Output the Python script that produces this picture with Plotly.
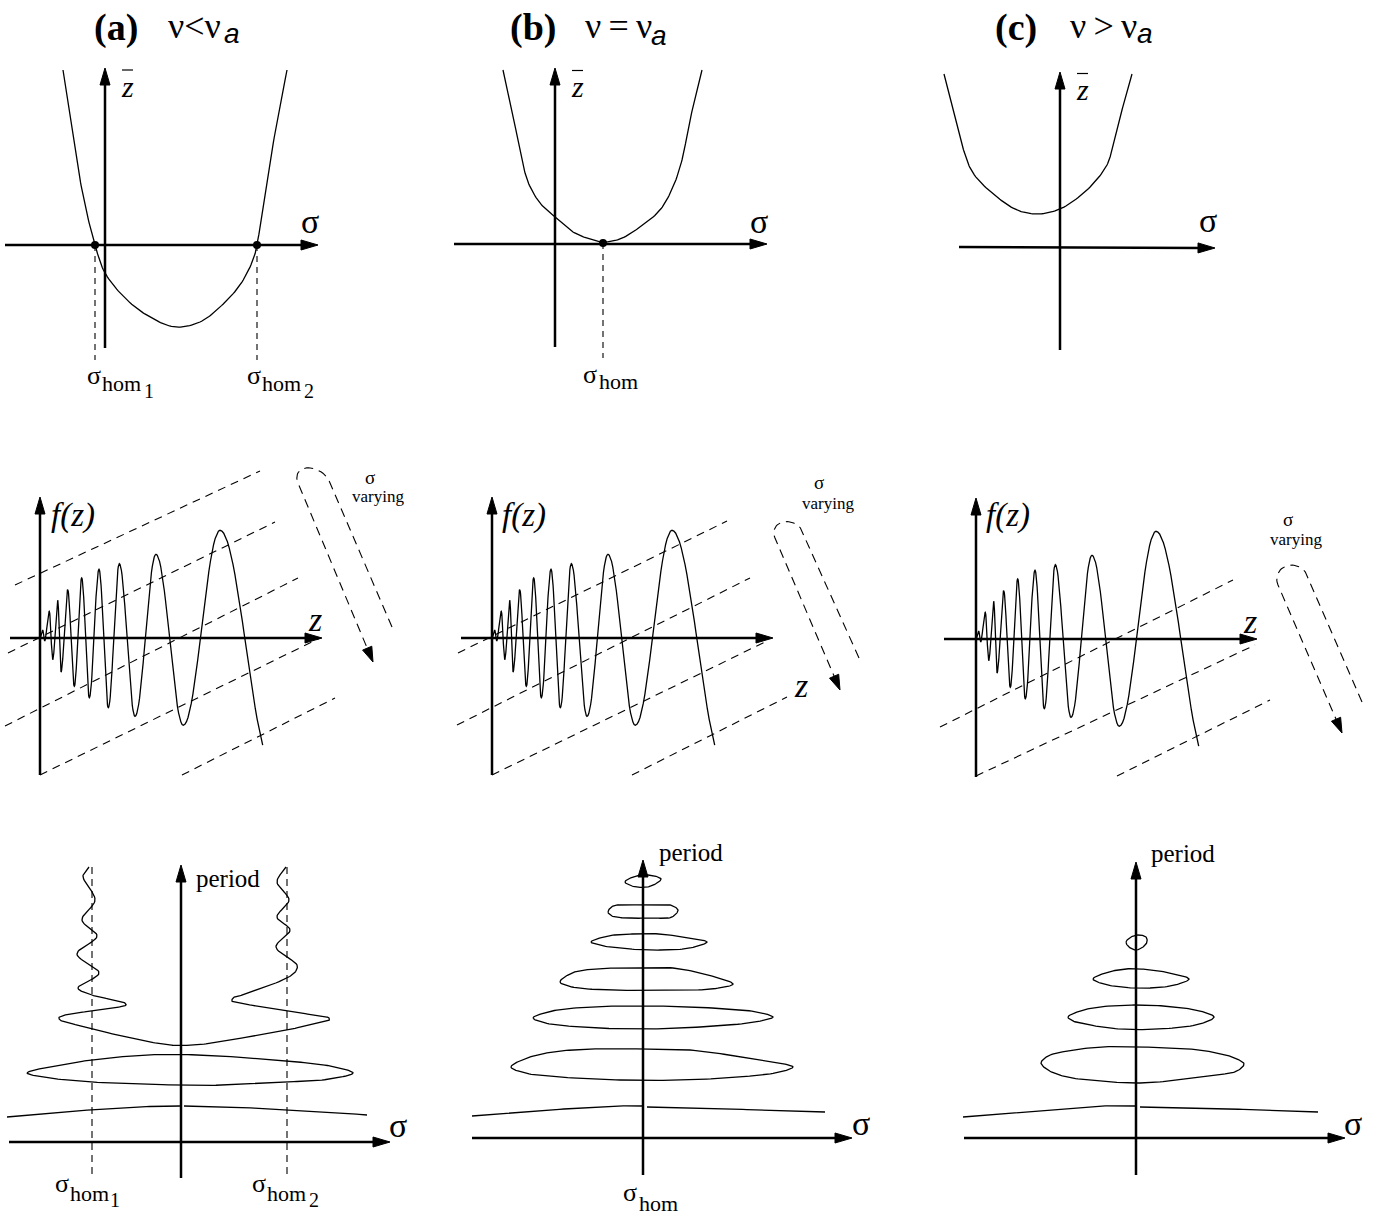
import numpy as np
import plotly.graph_objects as go

W, H = 1379, 1219
SERIF = "Liberation Serif"
SANS = "Liberation Sans"

# ---------------- top row: z-bar as a function of sigma ----------------
TOP_SIGMA_AXES = [((5, 245), (318, 245)), ((454, 244), (767, 244)), ((959, 247), (1215, 248))]
TOP_ZBAR_AXES = [((105, 348), (105, 68)), ((555, 347), (555, 68)), ((1060, 350), (1060, 72))]

ZBAR_A = [(63, 70), (69, 110), (75, 150), (84, 200), (95, 245), (105, 273), (127, 300), (150, 317),
          (175, 327), (200, 322), (220, 307), (240, 285), (253, 260), (257, 245), (264, 200),
          (275, 133), (287, 70)]
ZBAR_B = [(503, 70), (512, 110), (520, 150), (528, 182), (540, 203), (555, 217), (573, 232),
          (590, 239), (603, 242), (620, 239), (640, 227), (660, 210), (673, 187), (682, 160),
          (690, 120), (702, 70)]
ZBAR_C = [(944, 74), (953, 110), (962, 145), (973, 173), (997, 197), (1017, 210), (1037, 214),
          (1060, 209), (1087, 190), (1107, 165), (1113, 145), (1122, 110), (1132, 74)]

# homoclinic points on the sigma axis and their drop lines
HOM_TOP_X = [95, 257, 603]
HOM_TOP_Y = [245, 245, 243]
HOM_TOP_DROP_END = [360, 360, 358]

# ---------------- middle row: f(z) oscillations ----------------
MID_ORIGINS = [(40, 638), (492, 638), (976, 639)]
MID_F_AXES = [((40, 775), (40, 497)), ((492, 775), (492, 497)), ((976, 777), (976, 498))]
MID_Z_AXES = [((10, 638), (322, 638)), ((461, 638), (773, 638)), ((944, 639), (1257, 639))]

# extrema of the chirped wave, offsets from the origin (px, y downwards)
WAVE_DX = [0, 2.7, 4.6, 9.3, 12.7, 17.7, 21, 27.7, 34.3, 41.7, 49.3, 59, 68.3, 79.3, 95, 116,
           143.3, 180, 232]
WAVE_DY = [0, -8, 3, -26.7, 21.7, -37.7, 34, -48.3, 48.3, -60, 59.7, -68.7, 69.7, -74.3, 78.3,
           -83.7, 87.3, -107.7, 125]
WAVE_END_DX = 222.7

# dashed perspective lines
DASH_A = [((15, 585), (260, 471)), ((8, 653), (275, 522)), ((5, 726), (298, 578)),
          ((40, 775), (320, 638)), ((182, 775), (335, 698))]
DASH_B = [((458, 653), (727, 521)), ((457, 725), (750, 578)), ((492, 775), (765, 642)),
          ((632, 775), (787, 697))]
DASH_C = [((940, 727), (1233, 580)), ((976, 776), (1255, 645)), ((1117, 776), (1270, 700))]

# "sigma varying" hairpins: right branch bottom, right top, left top, arrow tip
HAIRPINS = [((392, 627), (330, 482), (298, 483), (373, 662)),
            ((859, 658), (803, 532), (775, 538), (840, 690)),
            ((1362, 702), (1307, 575), (1278, 585), (1342, 733))]

# ---------------- bottom row: period against sigma ----------------
BOT_PERIOD_AXES = [((181, 1178), (181, 865)), ((643, 1175), (643, 860)), ((1136, 1175), (1136, 862))]
BOT_SIGMA_AXES = [((9, 1142), (390, 1142)), ((472, 1138), (852, 1138)), ((964, 1138), (1345, 1138))]
HOM_BOT_X = [92, 287]
HOM_BOT_Y = (867, 1175)

A_BRANCH = [(89, 867), (83, 876), (95, 900), (82, 920), (97, 936), (77, 954), (99, 973), (78, 988),
            (92, 995), (116, 1000.5), (125, 1003), (126, 1005), (116, 1007.5), (92, 1011),
            (67, 1014.5), (59, 1017.5), (60, 1020), (68, 1022.5), (92, 1029), (140, 1040),
            (165, 1044.5), (180, 1045.5), (200, 1044.5), (230, 1040), (287, 1030),
            (320, 1022.5), (329, 1020.5), (329, 1018), (320, 1016), (287, 1011),
            (242, 1003.5), (232, 1001), (233, 998), (242, 995), (287, 978), (296, 971),
            (297, 965), (276, 947), (290, 930), (277, 917), (289, 900), (277, 882), (286, 867)]
A_LOOPS = [[(27, 1073), (60, 1065), (92, 1060), (147, 1055), (200, 1055), (287, 1061), (330, 1066),
            (353, 1073), (330, 1079), (287, 1082), (230, 1085), (180, 1085), (92, 1082), (50, 1078)]]
A_OPEN = [[(7, 1117), (50, 1113), (90, 1110), (133, 1107), (180, 1106)],
          [(184, 1106), (230, 1107), (287, 1110), (330, 1112), (367, 1115)]]

B_LOOPS = [
    [(625, 882), (633, 877), (648, 875), (661, 879), (651, 886), (636, 887)],
    [(608, 912), (613, 906), (628, 905), (650, 905), (670, 905), (678, 910), (672, 917),
     (650, 918), (625, 918), (612, 916)],
    [(591, 942), (608, 936), (632, 934), (660, 934), (688, 938), (707, 942), (690, 948),
     (660, 950), (630, 949), (604, 946)],
    [(560, 982), (572, 973), (595, 969), (633, 968), (673, 968), (708, 975), (733, 984),
     (712, 989), (670, 990), (610, 990), (572, 987)],
    [(533, 1018), (552, 1011), (592, 1007), (650, 1006), (712, 1008), (757, 1012), (773, 1017),
     (755, 1022), (700, 1027), (640, 1029), (580, 1027), (545, 1023)],
    [(511, 1067), (527, 1058), (553, 1052), (592, 1049), (640, 1049), (690, 1050), (742, 1057),
     (780, 1063), (793, 1067), (780, 1072), (740, 1077), (680, 1080), (620, 1080), (560, 1077),
     (525, 1073)],
]
B_OPEN = [[(472, 1116), (520, 1112), (580, 1108), (615, 1106), (643, 1106)],
          [(647, 1107), (700, 1108), (760, 1110), (825, 1112)]]

C_LOOPS = [
    [(1126, 942), (1131, 937), (1138, 935), (1146, 937), (1147, 942), (1143, 947), (1136, 950),
     (1129, 947)],
    [(1093, 979), (1105, 973), (1125, 969), (1140, 969), (1165, 972), (1189, 979), (1175, 985),
     (1150, 988), (1120, 987), (1100, 983)],
    [(1068, 1017), (1080, 1011), (1100, 1007), (1140, 1005), (1175, 1007), (1200, 1011),
     (1214, 1017), (1200, 1024), (1160, 1029), (1120, 1029), (1090, 1025), (1073, 1021)],
    [(1041, 1063), (1048, 1056), (1067, 1051), (1100, 1047), (1140, 1047), (1167, 1048),
     (1200, 1050), (1217, 1053), (1235, 1058), (1244, 1064), (1237, 1071), (1217, 1075),
     (1180, 1080), (1140, 1083), (1100, 1081), (1067, 1077), (1048, 1070)],
]
C_OPEN = [[(963, 1117), (1000, 1114), (1060, 1109), (1100, 1106), (1136, 1106)],
          [(1140, 1107), (1200, 1108), (1260, 1110), (1318, 1112)]]

fig = go.Figure()


def add_line(pts, width=1.3, dash=None):
    pts = np.asarray(pts, float)
    fig.add_trace(go.Scatter(x=pts[:, 0], y=pts[:, 1], mode="lines",
                             line=dict(color="black", width=width, dash=dash),
                             hoverinfo="skip", showlegend=False))


def add_head(tail, tip, length=17, half=5):
    tip = np.asarray(tip, float)
    tail = np.asarray(tail, float)
    d = (tip - tail) / np.linalg.norm(tip - tail)
    n = np.array([-d[1], d[0]])
    base = tip - d * length
    tri = np.array([tip, base + n * half, base - n * half, tip])
    fig.add_trace(go.Scatter(x=tri[:, 0], y=tri[:, 1], mode="lines", fill="toself",
                             fillcolor="black", line=dict(color="black", width=1),
                             hoverinfo="skip", showlegend=False))


def add_arrow(tail, tip, width=2.5, length=17, half=5):
    tail = np.asarray(tail, float)
    tip = np.asarray(tip, float)
    d = (tip - tail) / np.linalg.norm(tip - tail)
    add_line([tail, tip - d * length * 0.7], width=width)
    add_head(tail, tip, length, half)


def catmull(points, closed=False, n=14):
    P = np.asarray(points, float)
    if closed:
        P = np.vstack([P[-1], P, P[0], P[1]])
    else:
        P = np.vstack([2 * P[0] - P[1], P, 2 * P[-1] - P[-2]])
    out = []
    for i in range(len(P) - 3):
        p0, p1, p2, p3 = P[i:i + 4]
        t0 = 0.0
        t1 = t0 + np.linalg.norm(p1 - p0) ** 0.5
        t2 = t1 + np.linalg.norm(p2 - p1) ** 0.5
        t3 = t2 + np.linalg.norm(p3 - p2) ** 0.5
        for t in np.linspace(t1, t2, n, endpoint=False):
            a1 = (t1 - t) / (t1 - t0) * p0 + (t - t0) / (t1 - t0) * p1
            a2 = (t2 - t) / (t2 - t1) * p1 + (t - t1) / (t2 - t1) * p2
            a3 = (t3 - t) / (t3 - t2) * p2 + (t - t2) / (t3 - t2) * p3
            b1 = (t2 - t) / (t2 - t0) * a1 + (t - t0) / (t2 - t0) * a2
            b2 = (t3 - t) / (t3 - t1) * a2 + (t - t1) / (t3 - t1) * a3
            out.append((t2 - t) / (t2 - t1) * b1 + (t - t1) / (t2 - t1) * b2)
    out.append(P[-2])
    return np.array(out)


def wave_path(ox, oy):
    xs, ys = [], []
    for i in range(len(WAVE_DX) - 1):
        x0, x1 = WAVE_DX[i], WAVE_DX[i + 1]
        y0, y1 = WAVE_DY[i], WAVE_DY[i + 1]
        t_end = 1.0
        if x1 > WAVE_END_DX:
            t_end = (WAVE_END_DX - x0) / (x1 - x0)
        t = np.linspace(0, t_end, 24)
        xs.extend(ox + x0 + (x1 - x0) * t)
        ys.extend(oy + y0 + (y1 - y0) * (1 - np.cos(np.pi * t)) / 2)
        if t_end < 1:
            break
    return np.column_stack([xs, ys])


def hairpin(r0, r1, l1, l0):
    r0, r1, l1, l0 = (np.asarray(p, float) for p in (r0, r1, l1, l0))
    c = (r1 + l1) / 2
    r = np.linalg.norm(r1 - l1) / 2
    u = (r1 - c) / r
    d = (r1 - r0) / np.linalg.norm(r1 - r0)
    th = np.linspace(0, np.pi, 30)
    arc = c + np.outer(np.cos(th), u) * r + np.outer(np.sin(th), d) * r
    dl = (l0 - l1) / np.linalg.norm(l0 - l1)
    return np.vstack([r0, arc, l0 - dl * 10])


# ---------- top row ----------
for (t0, t1) in TOP_SIGMA_AXES:
    add_arrow(t0, t1)
for (t0, t1) in TOP_ZBAR_AXES:
    add_arrow(t0, t1)
for curve in (ZBAR_A, ZBAR_B, ZBAR_C):
    add_line(catmull(curve), width=1.3)
for x, y, y_end in zip(HOM_TOP_X, HOM_TOP_Y, HOM_TOP_DROP_END):
    add_line([(x, y), (x, y_end)], width=1.1, dash="6px,5px")
fig.add_trace(go.Scatter(x=HOM_TOP_X, y=HOM_TOP_Y, mode="markers",
                         marker=dict(color="black", size=8), hoverinfo="skip", showlegend=False))

# ---------- middle row ----------
for dashes in (DASH_A, DASH_B, DASH_C):
    for p0, p1 in dashes:
        add_line([p0, p1], width=1.1, dash="8px,6px")
for (t0, t1) in MID_F_AXES:
    add_arrow(t0, t1)
for (t0, t1) in MID_Z_AXES:
    add_arrow(t0, t1)
for ox, oy in MID_ORIGINS:
    add_line(wave_path(ox, oy), width=1.3)
for r0, r1, l1, l0 in HAIRPINS:
    add_line(hairpin(r0, r1, l1, l0), width=1.1, dash="9px,6px")
    add_head(l1, l0, length=15, half=5)

# ---------- bottom row ----------
for x in HOM_BOT_X:
    add_line([(x, HOM_BOT_Y[0]), (x, HOM_BOT_Y[1])], width=1.1, dash="7px,5px")
for (t0, t1) in BOT_PERIOD_AXES:
    add_arrow(t0, t1)
for (t0, t1) in BOT_SIGMA_AXES:
    add_arrow(t0, t1)
add_line(catmull(A_BRANCH), width=1.3)
for loops in (A_LOOPS, B_LOOPS, C_LOOPS):
    for lp in loops:
        add_line(catmull(lp, closed=True), width=1.3)
for opens in (A_OPEN, B_OPEN, C_OPEN):
    for op in opens:
        add_line(catmull(op), width=1.3)

# ---------- text ----------
ann = []


def txt(x, y, s, size, xanchor="center", family=SERIF):
    ann.append(dict(x=x, y=y, xref="x", yref="y", text=s, showarrow=False,
                    xanchor=xanchor, yanchor="middle",
                    font=dict(family=family, size=size, color="black")))


# panel titles
for x, s in ((92, "<b>(a)</b>"), (508, "<b>(b)</b>"), (993, "<b>(c)</b>")):
    txt(x, 27, s, 38, "left")
for x, s in ((166, "ν&lt;ν"), (583, "ν\u2009=\u2009ν"), (1068, "ν\u2009&gt;\u2009ν")):
    txt(x, 26, s, 36, "left")
for x, y in ((222, 33), (649, 35), (1135, 33)):
    txt(x, y, "<i>a</i>", 28, "left", SANS)

# z-bar labels with overbars
for x, y in ((127.5, 86), (577.5, 86.5), (1082.5, 89.5)):
    txt(x, y, "<i>z</i>", 30)
    add_line([(x - 5.5, y - 16), (x + 5.5, y - 16)], width=1.2)

# sigma axis labels
for x, y in ((310, 221), (759, 221), (1207.5, 220), (397.5, 1125), (861, 1123), (1352.5, 1123)):
    txt(x, y, "σ", 34)

# homoclinic labels
HOM_LABELS = [(93.5, 375, 100, 383, 142, 391, "1"), (253.5, 375, 260, 383, 302, 391, "2"),
              (589.5, 374, 597, 381, None, None, None),
              (61.5, 1183, 68, 1193, 108, 1200, "1"), (258.5, 1183, 265, 1193, 307, 1200, "2"),
              (630, 1192, 637, 1203, None, None, None)]
for sx, sy, hx, hy, ix, iy, idx in HOM_LABELS:
    txt(sx, sy, "σ", 26)
    txt(hx, hy, "hom", 22, "left")
    if idx:
        txt(ix, iy, idx, 20, "left")

# f(z) and z labels
for x in (73, 524, 1008):
    txt(x, 515, "<i>f(z)</i>", 33)
for x, y in ((315, 619), (801, 685), (1250, 621)):
    txt(x, y, "<i>z</i>", 34)

# sigma varying
for sx, sy, vx, vy in ((369.5, 477, 377.5, 496), (819, 482, 827.5, 503), (1287.5, 519, 1296, 539)):
    txt(sx, sy, "σ", 19)
    txt(vx, vy, "varying", 17)

# period labels
for x, y in ((194, 878), (657, 852), (1149, 853)):
    txt(x, y, "period", 25, "left")

fig.update_layout(
    width=W, height=H, margin=dict(l=0, r=0, t=0, b=0),
    paper_bgcolor="white", plot_bgcolor="white", showlegend=False,
    xaxis=dict(range=[0, W], visible=False, fixedrange=True),
    yaxis=dict(range=[H, 0], visible=False, fixedrange=True),
    annotations=ann,
)
fig.write_html("out.html", config={"displayModeBar": False})
